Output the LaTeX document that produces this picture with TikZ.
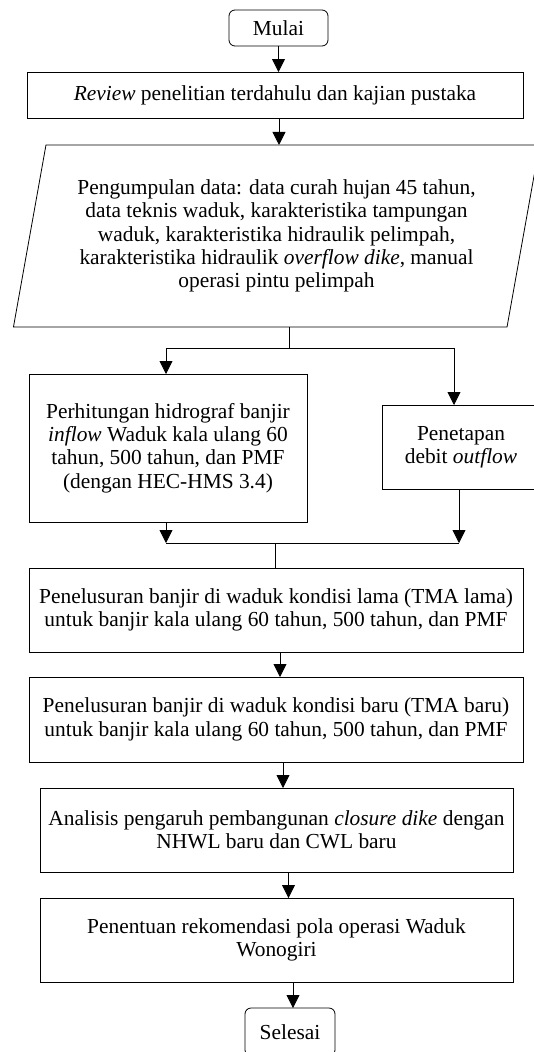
\documentclass[tikz,border=0pt]{standalone}
\usepackage{fontspec}
\setmainfont{Liberation Serif}
\usetikzlibrary{arrows.meta,shapes.geometric}
\newcommand\ukuran{\fontsize{21.4}{23.3}\selectfont}
\tikzset{
  proses/.style={draw, line width=0.8pt, align=center, inner sep=0pt, outer sep=0pt, font=\ukuran},
  terminal/.style={proses, rounded corners=6pt},
  masukan/.style={proses, trapezium, trapezium left angle=76, trapezium right angle=104,
    trapezium stretches=true},
  panah/.style={line width=0.8pt, -{Triangle[length=13pt,width=13pt]}},
  garis/.style={line width=0.8pt},
}
\begin{document}
\begin{tikzpicture}[x=1pt,y=-1pt]
\useasboundingbox (0,0) rectangle (534,1052);
\clip (0,0) rectangle (534,1052);
\node [terminal, minimum width=99, minimum height=36, at = {(278.5,28)}] (mulai) {Mulai};
\node [proses, minimum width=496, minimum height=46, at = {(275,95)}] (review) {\textit{Review} penelitian terdahulu dan kajian pustaka};
\node [masukan, minimum width=527, minimum height=182, at = {(276.5,236)}] (data) {Pengumpulan data: data curah hujan 45 tahun,\\ data teknis waduk, karakteristika tampungan\\ waduk, karakteristika hidraulik pelimpah,\\ karakteristika hidraulik \textit{overflow dike}, manual\\ operasi pintu pelimpah};
\node [proses, minimum width=278, minimum height=148, at = {(168,448)}] (hidro) {Perhitungan hidrograf banjir\\ \textit{inflow} Waduk kala ulang 60\\ tahun, 500 tahun, dan PMF\\ (dengan HEC-HMS 3.4)};
\node [proses, minimum width=158, minimum height=84, at = {(461,447)}] (outflow) {Penetapan\\ debit \textit{outflow}};
\node [proses, minimum width=494, minimum height=84, at = {(276,610)}] (lama) {Penelusuran banjir di waduk kondisi lama (TMA lama)\\ untuk banjir kala ulang 60 tahun, 500 tahun, dan PMF};
\node [proses, minimum width=494, minimum height=85, at = {(276,719.5)}] (baru) {Penelusuran banjir di waduk kondisi baru (TMA baru)\\ untuk banjir kala ulang 60 tahun, 500 tahun, dan PMF};
\node [proses, minimum width=473, minimum height=84, at = {(276.5,830)}] (analisis) {Analisis pengaruh pembangunan \textit{closure dike} dengan\\ NHWL baru dan CWL baru};
\node [proses, minimum width=473, minimum height=84, at = {(276.5,940)}] (penentuan) {Penentuan rekomendasi pola operasi Waduk\\ Wonogiri};
\node [terminal, minimum width=90, minimum height=48, at = {(290,1032)}] (selesai) {Selesai};
% percabangan dan penggabungan
\coordinate (bagi) at (289,348);
\coordinate (gabung) at (275,543);
\draw [panah] (mulai.south) -- (mulai.south |- review.north);
\draw [panah] ([xshift=4pt]review.south) -- ([xshift=4pt]review.south |- data.north);
\draw [garis] (data.south -| bagi) -- (bagi);
\draw [panah] (bagi) -| ([xshift=-2pt]hidro.north);
\draw [panah] (bagi) -| ([xshift=-7pt]outflow.north);
\draw [panah] ([xshift=-2pt]hidro.south) -- ([xshift=-2pt]hidro.south |- gabung);
\draw [panah] ([xshift=-2pt]outflow.south) -- ([xshift=-2pt]outflow.south |- gabung);
\draw [garis] ([xshift=-2pt]hidro.south |- gabung) -- ([xshift=-2pt]outflow.south |- gabung);
\draw [garis] (gabung) -- (gabung |- lama.north);
\draw [panah] ([xshift=4pt]lama.south) -- ([xshift=4pt]lama.south |- baru.north);
\draw [panah] ([xshift=7pt]baru.south) -- ([xshift=7pt]baru.south |- analisis.north);
\draw [panah] ([xshift=12pt]analisis.south) -- ([xshift=12pt]analisis.south |- penentuan.north);
\draw [panah] ([xshift=3pt]penentuan.south -| selesai) -- ([xshift=3pt]selesai.north);
\end{tikzpicture}
\end{document}
